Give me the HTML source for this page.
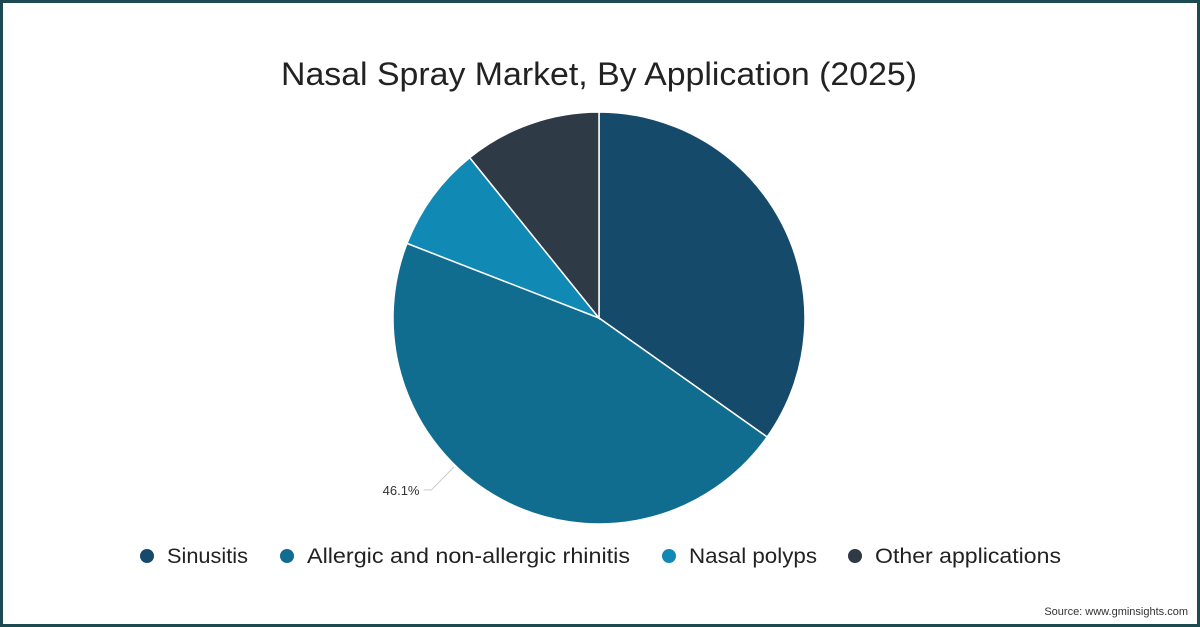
<!DOCTYPE html>
<html><head><meta charset="utf-8"><style>
html,body{margin:0;padding:0;background:#fff}
#frame{position:absolute;left:0;top:0;width:1194px;height:621px;border:3px solid #1d4a50;background:#fff;overflow:hidden}
text{font-family:"Liberation Sans",sans-serif}
</style></head><body>
<div id="frame">
<svg id="chart" width="1194" height="621" viewBox="3 3 1194 621">
<text x="599" y="85" text-anchor="middle" font-size="32" textLength="636" lengthAdjust="spacingAndGlyphs" fill="#222">Nasal Spray Market, By Application (2025)</text>
<g id="slices"></g>
<g id="labels"></g>
<g id="legend"></g>
<text x="1188" y="615" text-anchor="end" font-size="11" fill="#333">Source: www.gminsights.com</text>
</svg>
</div>
<script>
const categories = ["Sinusitis","Allergic and non-allergic rhinitis","Nasal polyps","Other applications"];
const values = [34.8, 46.1, 8.3, 10.8];
const shownLabels = ["", "46.1%", "", ""];
const colors = ["#154a6b","#106d8f","#1189b5","#2e3a46"];
const NS="http://www.w3.org/2000/svg";
const cx=599, cy=318, r=206;
const labelAngleOffset=16; // label anchor shifted from slice mid (style)
const total=values.reduce((a,b)=>a+b,0);
function pt(angDeg,rad){const a=(angDeg-90)*Math.PI/180;return [cx+rad*Math.cos(a),cy+rad*Math.sin(a)];}
const gS=document.getElementById('slices'), gL=document.getElementById('labels'), gLeg=document.getElementById('legend');
let start=0;
values.forEach((v,i)=>{
  const sweep=v/total*360, end=start+sweep;
  const p0=pt(start,r), p1=pt(end,r);
  const path=document.createElementNS(NS,'path');
  path.setAttribute('d',`M${cx},${cy} L${p0[0]},${p0[1]} A${r},${r} 0 ${sweep>180?1:0} 1 ${p1[0]},${p1[1]} Z`);
  path.setAttribute('fill',colors[i]);path.setAttribute('stroke','#fff');path.setAttribute('stroke-width','1.5');
  
  
  gS.appendChild(path);
  if(shownLabels[i]){
    const mid=start+sweep/2+labelAngleOffset;
    const a=pt(mid,r+2), b=pt(mid,r+34);
    const line=document.createElementNS(NS,'polyline');
    line.setAttribute('points',`${a[0]},${a[1]} ${b[0]},${b[1]} ${b[0]-8},${b[1]}`);
    line.setAttribute('fill','none');line.setAttribute('stroke','#ccc');line.setAttribute('stroke-width','1');
    
    
    gL.appendChild(line);
    const t=document.createElementNS(NS,'text');
    t.setAttribute('x',b[0]-12);t.setAttribute('y',b[1]+5);t.setAttribute('text-anchor','end');
    t.setAttribute('font-size','13');t.setAttribute('fill','#333');t.textContent=shownLabels[i];
    
    
    gL.appendChild(t);
  }
  start=end;
});
const legX=[147,287,669,855];
const legW=[81,323,128,186];
categories.forEach((c,i)=>{
  const g=document.createElementNS(NS,'g');
  
  
  const dot=document.createElementNS(NS,'circle');
  dot.setAttribute('cx',legX[i]);dot.setAttribute('cy',556);dot.setAttribute('r',7);dot.setAttribute('fill',colors[i]);
  
  
  const t=document.createElementNS(NS,'text');
  t.setAttribute('x',legX[i]+20);t.setAttribute('y',563);t.setAttribute('font-size','21');t.setAttribute('fill','#222');
  t.setAttribute('textLength',legW[i]);t.setAttribute('lengthAdjust','spacingAndGlyphs');
  t.textContent=c;
  
  
  g.appendChild(dot);g.appendChild(t);gLeg.appendChild(g);
});
</script>
</body></html>
